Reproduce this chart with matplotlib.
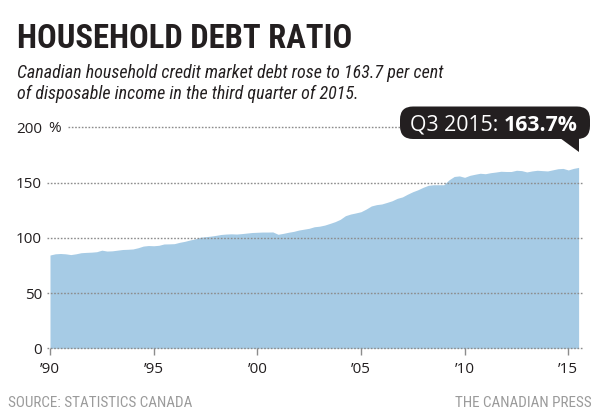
import matplotlib
matplotlib.use("Agg")
import matplotlib.pyplot as plt
import matplotlib.transforms as mtransforms
from matplotlib.patches import FancyBboxPatch, Polygon
from matplotlib import font_manager
import numpy as np

# ---------------- data ----------------
start_year = 1990
quarterly_ratio = [
    84.4, 85.5, 85.8, 85.5,      # 1990
    84.8, 85.5, 86.5, 86.8,      # 1991
    87.0, 87.4, 88.8, 88.0,      # 1992
    88.2, 88.8, 89.4, 89.6,      # 1993
    89.9, 91.0, 92.5, 93.0,      # 1994
    92.8, 93.2, 94.4, 94.5,      # 1995
    94.7, 95.9, 96.8, 98.0,      # 1996
    99.0, 100.5, 101.0, 101.5,   # 1997
    102.2, 103.0, 103.4, 103.6,  # 1998
    103.4, 103.8, 104.3, 104.8,  # 1999
    105.0, 105.2, 105.2, 105.3,  # 2000
    103.2, 104.0, 105.0, 105.8,  # 2001
    107.0, 107.8, 108.6, 110.0,  # 2002
    110.5, 111.5, 113.0, 114.6,  # 2003
    116.7, 120.0, 121.5, 122.5,  # 2004
    123.6, 126.0, 128.8, 130.0,  # 2005
    130.6, 132.0, 133.5, 135.7,  # 2006
    137.0, 139.5, 141.7, 143.5,  # 2007
    145.7, 147.5, 148.0, 148.0,  # 2008
    148.0, 152.5, 155.5, 156.0,  # 2009
    154.7, 156.5, 157.5, 158.4,  # 2010
    158.0, 158.9, 159.5, 160.2,  # 2011
    160.0, 160.0, 161.1, 160.8,  # 2012
    159.6, 160.5, 161.1, 160.8,  # 2013
    160.5, 161.5, 162.5, 162.8,  # 2014
    161.4, 162.8, 163.7,         # 2015
]
x_ticks = [1990, 1995, 2000, 2005, 2010, 2015]
x_tick_labels = ["\u201990", "\u201995", "\u201900", "\u201905", "\u201910", "\u201915"]
y_ticks = [0, 50, 100, 150, 200]
y_tick_labels = ["0", "50", "100", "150", "200"]

title = "HOUSEHOLD DEBT RATIO"
subtitle_lines = ["Canadian household credit market debt rose to 163.7 per cent",
                  "of disposable income in the third quarter of 2015."]
callout_label = "Q3 2015: "
callout_value = "163.7%"
source = "SOURCE: STATISTICS CANADA"
credit = "THE CANADIAN PRESS"

quarters = start_year + np.arange(len(quarterly_ratio)) / 4.0


def pick(*names):
    for n in names:
        try:
            font_manager.findfont(font_manager.FontProperties(family=n), fallback_to_default=False)
            return n
        except Exception:
            continue
    return "DejaVu Sans"


narrow = pick("Liberation Sans Narrow", "Roboto Condensed", "Open Sans", "Roboto")
body = pick("Open Sans", "Liberation Sans", "DejaVu Sans")

W, H, DPI = 600, 413, 100
fig = plt.figure(figsize=(W / DPI, H / DPI), dpi=DPI)
fig.patch.set_facecolor("white")

# pixel transform (x from left, y from top)
PX = mtransforms.Affine2D().scale(1 / DPI, -1 / DPI).translate(0, H / DPI) + fig.dpi_scale_trans

# axes placement in pixels
ax_left, ax_right = 47, 582
y0_px, px_per_unit = 348.3, 1.105
px_per_year = 20.73
x0_px = 50
ylim_top = 205
ax_top_px = y0_px - ylim_top * px_per_unit
ax = fig.add_axes([ax_left / W, (H - y0_px) / H, (ax_right - ax_left) / W,
                   (y0_px - ax_top_px) / H])
ax.set_xlim(start_year - (x0_px - ax_left) / px_per_year,
            start_year + (ax_right - x0_px) / px_per_year)
ax.set_ylim(0, ylim_top)

fill_color = "#a6cbe5"
ax.fill_between(quarters, 0, quarterly_ratio, color=fill_color, lw=0, zorder=1)

grid_color = "#8c8c8c"
for yv in y_ticks:
    xmin = 0.0
    if yv == 200:
        xmin = (68 - ax_left) / (ax_right - ax_left)
    ax.axhline(yv, xmin=xmin, xmax=1, color=grid_color, lw=1.0,
               linestyle=(0, (1.2, 1.2)), zorder=2, clip_on=False)

for s in ax.spines.values():
    s.set_visible(False)

ax.set_yticks(y_ticks)
ax.set_yticklabels(y_tick_labels, fontfamily=body, fontsize=11, color="#231f20")
ax.tick_params(axis="y", length=0, pad=3.5)

ax.set_xticks(x_ticks)
ax.set_xticklabels(x_tick_labels, fontfamily=body, fontsize=11, color="#231f20")
ax.tick_params(axis="x", direction="out", length=5, width=1, color=grid_color, pad=5)

fig.text(48 / W, 1 - 128 / H, "%", fontfamily=body, fontsize=11, color="#231f20",
         ha="left", va="center")

# title & subtitle
fig.text(17 / W, 1 - 48 / H, title, fontfamily=narrow, fontweight="bold",
         fontsize=23.5, color="#231f20", ha="left", va="baseline")
for i, line in enumerate(subtitle_lines):
    fig.text(17 / W, 1 - (78 + 21 * i) / H, line, fontfamily=narrow, fontstyle="italic",
             fontsize=13, color="#231f20", ha="left", va="baseline")

# callout
box = FancyBboxPatch((400, 106.5), 190, 32.5, boxstyle="round,pad=0,rounding_size=13",
                     transform=PX, facecolor="#231f20", edgecolor="none")
fig.add_artist(box)
tri = Polygon([(560, 138), (578.5, 138), (578.5, 152)], closed=True,
              transform=PX, facecolor="#231f20", edgecolor="none")
fig.add_artist(tri)
t1 = fig.text(410 / W, 1 - 131 / H, callout_label, fontfamily=body, fontsize=15.3,
              color="white", ha="left", va="baseline")
fig.canvas.draw()
bb = t1.get_window_extent()
fig.text(bb.x1 / W, 1 - 131 / H, callout_value, fontfamily=body, fontweight="bold",
         fontsize=15.3, color="white", ha="left", va="baseline")

# footer
fig.text(8 / W, 1 - 407 / H, source, fontfamily=narrow, fontsize=10.9, color="#9b9b9b",
         ha="left", va="baseline")
fig.text(592 / W, 1 - 407 / H, credit, fontfamily=narrow, fontsize=10.9, color="#9b9b9b",
         ha="right", va="baseline")

fig.savefig("out.png", dpi=DPI, facecolor="white")
